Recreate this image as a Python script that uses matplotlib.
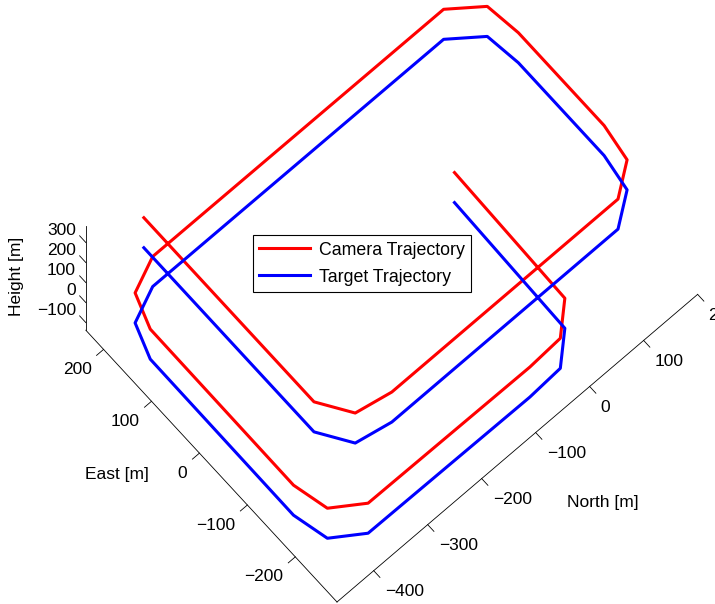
import numpy as np
import matplotlib
matplotlib.use('Agg')
import matplotlib.pyplot as plt
from mpl_toolkits.mplot3d import proj3d

plt.rcParams['font.family'] = ['Liberation Sans', 'DejaVu Sans']

# track corners in [m]; the camera flies straight above the target
north = [-365, -365, -333, -275, 144, 191, 200, 200, 193, 145,
         -393, -446, -465, -466, -453, -406, -108, -49, -6, 0]
east = [232, -123, -173, -184, -184, -150, -92, 87, 144, 181,
        182, 159, 106, -194, -250, -282, -284, -281, -242, -5]
camera_height = 200
target_height = 50

north_lim = (-468, 200)
east_lim = (-287, 237)
height_lim = (-138, 383)
north_ticks = [-400, -300, -200, -100, 0, 100, 200]
east_ticks = [-200, -100, 0, 100, 200]
height_ticks = [-100, 0, 100, 200, 300]

W, H = 715, 604
fs = 12.5

def lbl(v):
    return str(v).replace('-', '\u2212')

fig = plt.figure(figsize=(W / 100, H / 100), dpi=100)
ax = fig.add_axes([0, 0, 1, 1], projection='3d')
ax.set_proj_type('ortho')
ax.set_xlim(north_lim)
ax.set_ylim(east_lim)
ax.set_zlim(height_lim)
ax.set_box_aspect((np.ptp(north_lim), np.ptp(east_lim), np.ptp(height_lim)))
ax.view_init(elev=73.9, azim=-131.6)
ax.set_axis_off()

cam, = ax.plot(north, east, camera_height, color=(1, 0, 0), lw=2.2,
               label='Camera Trajectory')
tgt, = ax.plot(north, east, target_height, color=(0, 0, 1), lw=2.2,
               label='Target Trajectory')

# MATLAB-like axis lines and ticks
n0, n1 = north_lim
e0, e1 = east_lim
h0, h1 = height_lim
k = dict(color='black', lw=0.6)
ax.plot([n0, n1], [e0, e0], [h0, h0], **k)
ax.plot([n0, n0], [e0, e1], [h0, h0], **k)
ax.plot([n0, n0], [e1, e1], [h0, h1], **k)
tl = 13
for t in north_ticks:
    ax.plot([t, t], [e0, e0 - tl], [h0, h0], **k)
for t in east_ticks:
    ax.plot([n0, n0 - tl], [t, t], [h0, h0], **k)
for t in height_ticks:
    ax.plot([n0, n0], [e1, e1 + tl], [t, t], **k)

def to_px(x, y, z):
    xs, ys, _ = proj3d.proj_transform(x, y, z, ax.M)
    return np.array(ax.transData.transform((xs, ys)))

# fit the projected box to the wanted place on the canvas
fig.canvas.draw()
front = to_px(n0, e0, h0)
right = to_px(n1, e0, h0)
want_front = np.array([337, H - 602])
want_right = np.array([699, H - 296])
s = np.hypot(*(want_right - want_front)) / np.hypot(*(right - front))
bb = ax.bbox
x0 = want_front[0] - s * (front[0] - bb.x0)
y0 = want_front[1] - s * (front[1] - bb.y0)
ax.set_position([x0 / W, y0 / H, s * bb.width / W, s * bb.height / H])
fig.canvas.draw()

# tick labels, placed next to the projected tick positions
def tick_text(pt, dx, dy, txt, ha):
    px, py = to_px(*pt)
    fig.text((px + dx) / W, (py + dy) / H, txt, ha=ha, va='center', fontsize=fs)

for t in north_ticks:
    tick_text((t, e0, h0), 11, -21, lbl(t), 'left')
for t in east_ticks:
    tick_text((n0, t, h0), -12, -20, lbl(t), 'right')
for t in height_ticks:
    tick_text((n0, e1, t), -10, 12, lbl(t), 'right')

fig.text(603 / W, 1 - 503 / H, 'North [m]', ha='center', va='center', fontsize=fs)
fig.text(117 / W, 1 - 475 / H, 'East [m]', ha='center', va='center', fontsize=fs)
fig.text(17 / W, 1 - 276 / H, 'Height [m]', ha='center', va='center',
         rotation=90, fontsize=fs)

leg = fig.legend(handles=[cam, tgt], loc='upper left',
                 bbox_to_anchor=(252.7 / W, 1 - 235 / H), borderaxespad=0,
                 fancybox=False, edgecolor='black', framealpha=1, fontsize=12.8,
                 handlelength=2.9, handletextpad=0.5, borderpad=0.35,
                 labelspacing=0.55, handleheight=0.9)
leg.get_frame().set_linewidth(0.8)

fig.savefig('out.png', dpi=100)
